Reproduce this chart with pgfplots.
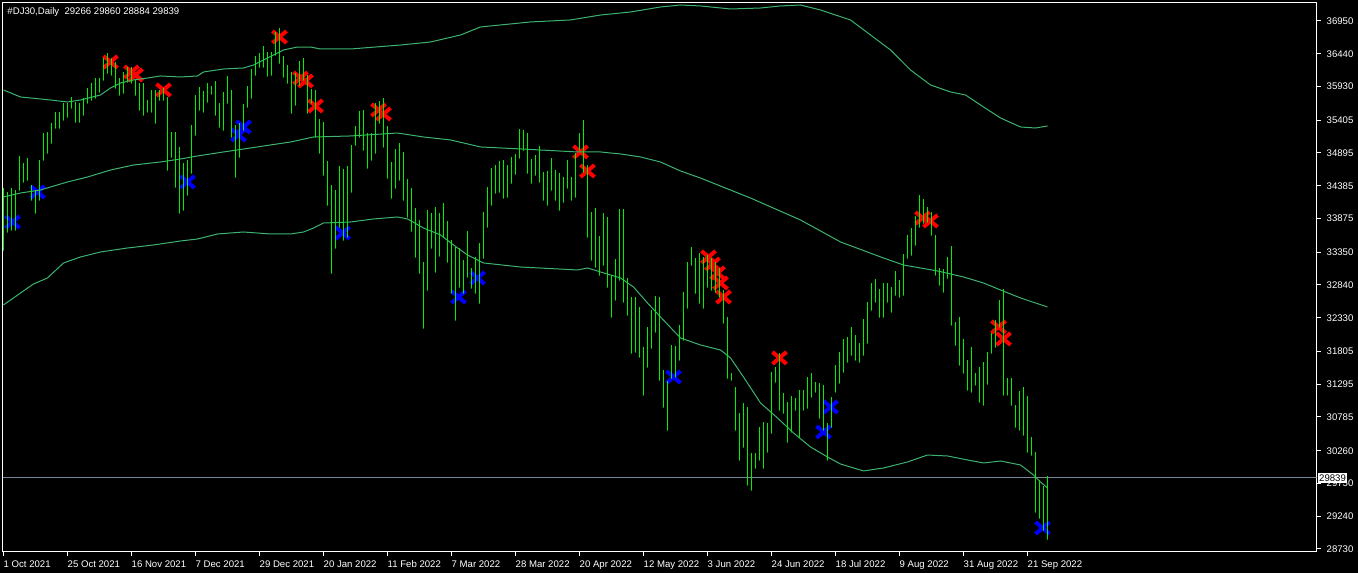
\documentclass[border=0pt]{standalone}
\usepackage{pgfplots}
\pgfplotsset{compat=1.18}
\usepackage{pgfplotstable}
\usepackage{fontspec}
\setmainfont{Liberation Sans}
\definecolor{bargreen}{RGB}{0,240,0}
\definecolor{bandgreen}{RGB}{60,179,113}
\definecolor{pricegray}{RGB}{119,136,153}
\pgfdeclareplotmark{bigx}{%
  \pgfpathmoveto{\pgfqpoint{-7bp}{-6bp}}\pgfpathlineto{\pgfqpoint{7bp}{6bp}}%
  \pgfpathmoveto{\pgfqpoint{-7bp}{6bp}}\pgfpathlineto{\pgfqpoint{7bp}{-6bp}}%
  \pgfusepathqstroke}
\pgfplotstableread{
i hi lo
0 34350 33385
1 34288 33665
2 34350 33696
3 34319 33696
4 34849 34319
5 34739 34444
6 34817 34475
7 34397 34163
8 34319 33961
9 34786 34163
10 35206 34786
11 35222 34895
12 35362 35051
13 35534 35284
14 35534 35284
15 35673 35409
16 35673 35456
17 35767 35595
18 35689 35378
19 35673 35378
20 35751 35487
21 35907 35673
22 35985 35720
23 36062 35751
24 36062 35845
25 36374 36032
26 36452 36140
27 36374 36109
28 36312 35907
29 36062 35798
30 36156 35829
31 36234 36001
32 36234 35985
33 36032 35798
34 35985 35565
35 35985 35487
36 35720 35534
37 35876 35534
38 35876 35362
39 35876 35720
40 35907 35720
41 35767 34630
42 35222 34833
43 35222 34366
44 34989 33961
45 34739 34008
46 34786 34241
47 35331 34583
48 35798 35175
49 35923 35565
50 35860 35534
51 35985 35689
52 35938 35814
53 36016 35487
54 35673 35300
55 35845 35253
56 36094 35673
57 35876 35144
58 35331 34521
59 35362 34833
60 35658 35253
61 35938 35611
62 36203 35751
63 36406 36109
64 36452 36234
65 36561 36234
66 36468 36094
67 36468 36109
68 36779 36421
69 36841 36296
70 36406 36078
71 36265 35985
72 36156 35518
73 36140 35642
74 36327 35954
75 36374 36032
76 36109 35518
77 35891 35673
78 35876 35144
79 35424 34895
80 35378 34552
81 34770 34085
82 34397 33027
83 34319 33416
84 34693 33743
85 34646 33541
86 34693 33587
87 35020 34288
88 35316 35020
89 35549 35144
90 35565 34942
91 35206 34661
92 35206 34786
93 35673 34895
94 35704 35362
95 35751 34989
96 35316 34505
97 34755 34194
98 34958 34350
99 35051 34475
100 34911 34163
101 34490 33899
102 34350 33680
103 34038 33276
104 33852 33027
105 33198 32170
106 34008 32762
107 33961 33416
108 34054 33043
109 33961 33292
110 34116 33587
111 33836 33198
112 33541 32715
113 33432 32295
114 33416 32809
115 33229 32715
116 33680 32965
117 33105 32793
118 33276 32715
119 33494 32560
120 33977 33260
121 34366 33743
122 34661 34085
123 34708 34272
124 34770 34288
125 34786 34194
126 34708 34210
127 34833 34428
128 34880 34568
129 35269 34817
130 35253 34942
131 35206 34583
132 34802 34428
133 34864 34552
134 35004 34444
135 34599 34163
136 34614 34085
137 34817 34319
138 34630 34163
139 34583 34008
140 34521 34132
141 34786 34350
142 34521 34163
143 34895 34210
144 35206 34942
145 35409 34599
146 34708 33587
147 33977 33229
148 34038 33120
149 33603 32996
150 33961 33151
151 33899 32809
152 32996 32342
153 33245 32607
154 34023 32918
155 34023 32576
156 32949 32373
157 32653 31781
158 32653 31797
159 32498 31719
160 31875 31128
161 32187 31564
162 32451 31859
163 32669 32109
164 32653 31361
165 31517 30941
166 31346 30583
167 31906 31392
168 31891 31408
169 32218 31673
170 32731 31984
171 33198 32482
172 33432 33151
173 33260 32715
174 33338 32560
175 33276 32482
176 33307 32809
177 33260 32762
178 33198 32731
179 33105 32653
180 32762 32249
181 32342 31392
182 31470 31361
183 31252 30583
184 30847 30116
185 31003 30318
186 30941 29727
187 30224 29649
188 30224 29991
189 30629 30116
190 30707 29991
191 30691 30240
192 31486 30536
193 31564 31330
194 31781 30894
195 31159 30847
196 31019 30396
197 31113 30552
198 31081 30894
199 31206 30474
200 31206 30894
201 31408 30925
202 31470 31097
203 31330 31175
204 31315 30769
205 31284 30583
206 30691 30116
207 31097 30629
208 31595 31175
209 31797 31315
210 32000 31486
211 32031 31642
212 32187 31750
213 32062 31673
214 31937 31642
215 32311 31750
216 32576 31937
217 32871 32451
218 32933 32576
219 32777 32342
220 32871 32342
221 32871 32576
222 32809 32420
223 33058 32684
224 32918 32653
225 33323 32684
226 33619 33260
227 33727 33307
228 33914 33463
229 34241 33743
230 34179 33805
231 34054 33821
232 33977 33619
233 33619 32996
234 33105 32840
235 33089 32731
236 33276 32949
237 33447 32218
238 32264 31906
239 32342 31595
240 32000 31470
241 31673 31206
242 31875 31175
243 31470 31284
244 31564 31019
245 31642 30972
246 31797 31299
247 32093 31781
248 32295 31875
249 32607 32187
250 32777 31128
251 31392 31128
252 31392 30972
253 30972 30629
254 31190 30583
255 31252 30505
256 31113 30240
257 30474 30193
258 30240 29306
259 29804 29213
260 29711 29026
261 29860 28884
}\bars
\begin{document}
\begin{tikzpicture}
\path[use as bounding box, fill=black] (-2.5bp,-21.5bp) rectangle (1355.5bp,551.5bp);
\begin{axis}[
  at={(0,0)}, anchor=south west,
  scale only axis, width=1314bp, height=549bp,
  xmin=-0.25, xmax=328.25, ymin=28691, ymax=37238,
  clip mode=individual,
  axis line style={white, line width=1bp},
  tick style={white, line width=1bp},
  tick align=outside, major tick length=4bp,
  xtick pos=left, ytick pos=right, yticklabel pos=right,
  xtick={0,16,...,256},
  xticklabels={1 Oct 2021,25 Oct 2021,16 Nov 2021,7 Dec 2021,29 Dec 2021,20 Jan 2022,11 Feb 2022,7 Mar 2022,28 Mar 2022,20 Apr 2022,12 May 2022,3 Jun 2022,24 Jun 2022,18 Jul 2022,9 Aug 2022,31 Aug 2022,21 Sep 2022},
  ytick={28730,29240,29750,30260,30785,31295,31805,32330,32840,33350,33875,34385,34895,35405,35930,36440,36950},
  yticklabels={28730,29240,29750,30260,30785,31295,31805,32330,32840,33350,33875,34385,34895,35405,35930,36440,36950},
  tick label style={font=\fontsize{9.6bp}{11bp}\selectfont, text=white},
  xticklabel style={anchor=north west, inner sep=0pt, yshift=-5bp},
  yticklabel style={anchor=west, inner sep=0pt, xshift=6bp},
]
% signal markers
\addplot[only marks, mark=bigx, color=red, mark options={draw=red, line width=4bp}] coordinates {
(26.75,36312) (32,36156) (33,36109) (40,35876) (69,36701) (74.25,36062) (75.5,36016) (78,35627)
(93.75,35565) (95,35502) (144.25,34911) (146,34615) (176.25,33276) (177.25,33167) (178.5,33027)
(179.25,32871) (180,32653) (194,31704) (229.75,33883) (231.75,33836) (248.75,32187) (250,32000)};
\addplot[only marks, mark=bigx, color=blue, mark options={draw=blue, line width=4bp}] coordinates {
(2.25,33821) (8.5,34288) (46,34444) (58.75,35175) (60,35300) (84.75,33650) (113.75,32653)
(118.5,32949) (167.5,31408) (205,30552) (206.75,30941) (259.75,29057)};
% bands
\addplot[bandgreen, line width=1bp, mark=none] coordinates {
(0,35876) (4.25,35767) (11.75,35720) (16,35689) (19.25,35720) (24.25,35798) (26.75,35907)
(29.25,35985) (32.5,36032) (36,36062) (39.25,36094) (44.25,36078) (48.5,36094) (50,36156)
(55,36203) (60,36218) (62.5,36265) (65,36343) (67.5,36421) (70,36499) (73.5,36545)
(76.75,36545) (79.25,36514) (86.75,36514) (99.25,36576) (106.75,36623) (114.25,36732)
(119.25,36857) (124.25,36888) (131.75,36935) (141.75,36966) (149.25,37043) (156.75,37090)
(164.25,37168) (169.25,37199) (174.25,37184) (181.75,37137) (189.25,37152) (194.25,37184)
(199.25,37199) (204.25,37121) (211.75,36966) (216.75,36732) (221.75,36499) (226.75,36187)
(231.75,35954) (236.75,35845) (240.5,35798) (244.25,35642) (249.25,35440) (254.25,35300)
(258,35284) (261,35316)};
\addplot[bandgreen, line width=1bp, mark=none] coordinates {
(0,34210) (4.25,34272) (9.25,34319) (16,34444) (21,34521) (26.75,34630) (32.5,34708)
(39.25,34755) (44.25,34802) (48.5,34849) (55,34911) (61.75,34973) (66.75,35020) (71.75,35066)
(77.5,35144) (86.75,35160) (98.5,35206) (105,35144) (111.75,35098) (119.25,34989)
(129.25,34958) (143.5,34911) (149.25,34911) (154.25,34880) (159.25,34833) (164.25,34755)
(169.25,34615) (174.25,34505) (186.75,34194) (199.25,33852) (209.25,33510) (220,33260)
(225,33151) (229.25,33105) (233.5,33058) (240,32965) (245,32871) (249.25,32762)
(254.25,32638) (261,32498)};
\addplot[bandgreen, line width=1bp, mark=none] coordinates {
(0,32529) (4.25,32715) (7.5,32856) (11,32949) (15,33183) (19.25,33276) (24.25,33354)
(31,33416) (37.5,33463) (44.25,33525) (48.5,33556) (53.5,33634) (60,33665) (66.75,33634)
(71.75,33634) (75,33665) (77.5,33727) (80,33805) (86.75,33821) (92.5,33868) (98.5,33899)
(101,33868) (105,33727) (109.25,33619) (112.5,33463) (116,33307) (120,33183) (129.25,33120)
(143.5,33074) (146,33105) (149.25,33043) (154.25,32949) (157.5,32809) (161,32560)
(164.25,32342) (169.25,32015) (174.25,31906) (179.25,31828) (181.75,31704) (185,31408)
(189.25,31003) (193.5,30769) (197.5,30536) (201.75,30318) (206,30162) (209.25,30053)
(215,29945) (220,29991) (226,30085) (231,30193) (236,30178) (241,30116) (245,30069)
(249.25,30100) (254.25,30038) (257.5,29882) (259.25,29773) (261,29680)};
% current price line
\addplot[pricegray, line width=1bp, mark=none] coordinates {(-0.25,29839) (328.25,29839)};
% high-low bars
\addplot[color=bargreen, only marks, mark=*, mark size=0.3bp,
  error bars/.cd, y dir=plus, y explicit, error mark=none,
  error bar style={color=bargreen, line width=1bp, solid}]
  table[x=i, y=lo, y error expr=\thisrow{hi}-\thisrow{lo}] {\bars};
\node[anchor=base west, inner sep=0pt, text=white, font=\fontsize{9.6bp}{11bp}\selectfont,
  xshift=4.8bp, yshift=-12.3bp] at (rel axis cs:0,1) {\#DJ30,Daily\ \ 29266 29860 28884 29839};
\node[anchor=west, fill=white, text=black, inner xsep=1.5bp, inner ysep=1.4bp,
  font=\fontsize{9.6bp}{11bp}\selectfont, xshift=1bp] at (axis cs:328.25,29839) {29839};
\end{axis}
\end{tikzpicture}
\end{document}
